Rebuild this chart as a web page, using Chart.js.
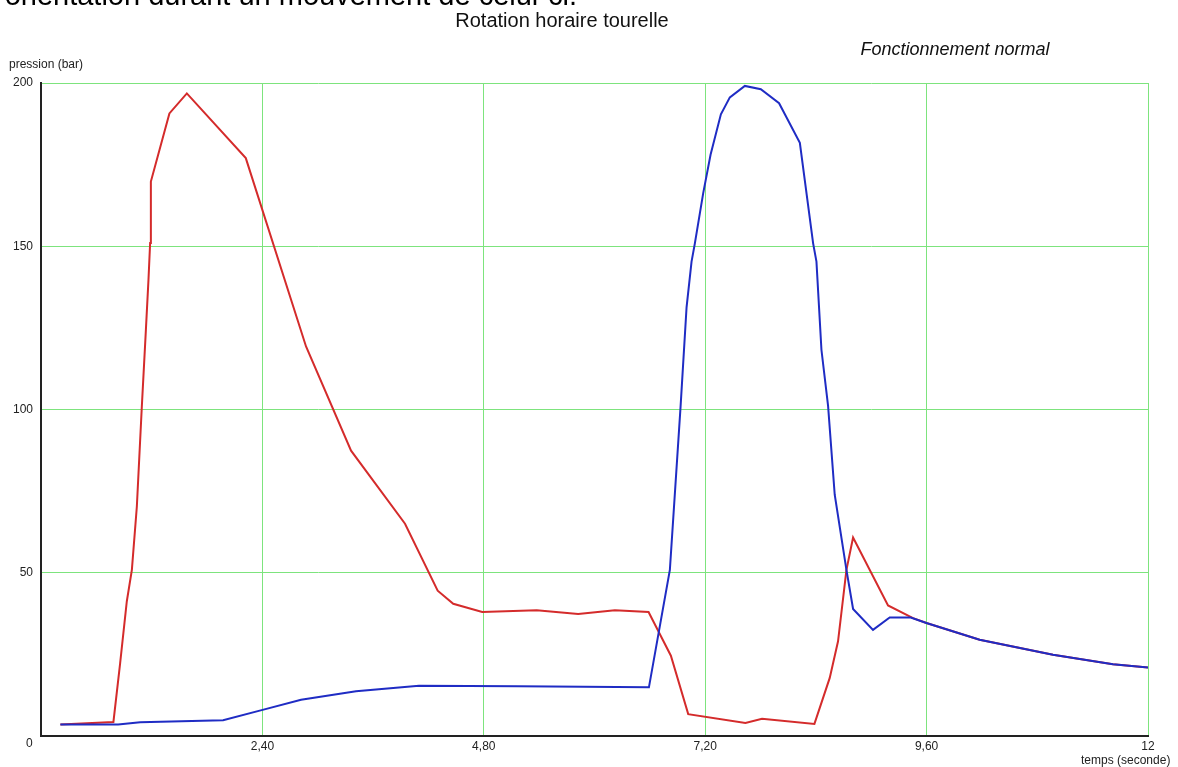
<!DOCTYPE html>
<html>
<head>
<meta charset="utf-8">
<script src="https://cdn.jsdelivr.net/npm/chart.js@4"></script>
<style>
  body { margin: 0; background: #fff; }
  canvas { display: block; }
</style>
</head>
<body>
<canvas id="chartCanvas" width="1178" height="767"></canvas>
<script>
// red curve (seconds, bar)
const redTime = [0.21, 0.785, 0.858, 0.93, 0.985, 1.039, 1.093, 1.137, 1.165, 1.183, 1.191, 1.392, 1.581, 2.22, 2.873, 3.361, 3.946, 4.3, 4.469, 4.783, 5.373, 5.823, 6.221, 6.586, 6.828, 7.016, 7.636, 7.816, 8.384, 8.55, 8.64, 8.731, 8.803, 9.182, 9.453, 9.598, 10.175, 10.97, 11.62, 12];
const redPressure = [3.5, 4.3, 22.3, 41.2, 50.9, 70.3, 100.9, 124.4, 139.7, 151, 169.8, 190.7, 196.8, 177, 119.3, 87.4, 65, 44.5, 40.5, 38, 38.5, 37.4, 38.5, 38, 24.6, 6.7, 4.0, 5.3, 3.7, 17.8, 29, 50.9, 60.8, 40, 36.1, 34.6, 29.5, 24.9, 22, 21];

// blue curve
const blueTime = [0.21, 0.836, 1.075, 1.974, 2.402, 2.819, 3.415, 4.097, 5.17, 6.59, 6.817, 6.933, 6.998, 7.052, 7.088, 7.178, 7.258, 7.37, 7.467, 7.63, 7.803, 8.001, 8.226, 8.37, 8.406, 8.46, 8.532, 8.604, 8.731, 8.803, 9.019, 9.2, 9.428, 9.598, 10.175, 10.97, 11.62, 12];
const bluePressure = [3.5, 3.5, 4.2, 4.8, 8.0, 11.1, 13.7, 15.4, 15.2, 14.9, 50.9, 100.9, 131.3, 145.3, 150.9, 166.2, 178, 190.4, 195.6, 199.1, 198.1, 193.8, 181.7, 150.9, 145.3, 118.3, 101.1, 73.9, 50.9, 38.9, 32.5, 36.3, 36.3, 34.6, 29.5, 24.9, 22, 21];

const xTicks = [0, 2.4, 4.8, 7.2, 9.6, 12];
const xTickLabels = ['', '2,40', '4,80', '7,20', '9,60', '12'];

function toPoints(xs, ys) {
    return xs.map((x, i) => ({ x: x, y: ys[i] }));
}

const textPlugin = {
    id: 'texts',
    afterDraw(chart) {
        const ctx = chart.ctx;
        ctx.save();
        ctx.fillStyle = '#000';
        ctx.textBaseline = 'alphabetic';
        ctx.textAlign = 'left';
        ctx.font = '29px "Liberation Sans", Arial, sans-serif';
        ctx.fillText("d'orientation durant un mouvement de celui-ci.", -17, 5);

        ctx.fillStyle = '#111';
        ctx.textBaseline = 'middle';
        ctx.textAlign = 'center';
        ctx.font = '20px "Liberation Sans", Arial, sans-serif';
        ctx.fillText('Rotation horaire tourelle', 562, 21);

        ctx.font = 'italic 18px "Liberation Sans", Arial, sans-serif';
        ctx.fillText('Fonctionnement normal', 955, 50);

        ctx.fillStyle = '#222';
        ctx.textAlign = 'left';
        ctx.font = '12px "Liberation Sans", Arial, sans-serif';
        ctx.fillText('pression (bar)', 9, 65);
        ctx.fillText('temps (seconde)', 1081, 761);
        ctx.fillText('0', 26, 744);
        ctx.restore();
    }
};

const ctx = document.getElementById('chartCanvas').getContext('2d');
const myChart = new Chart(ctx, {
    type: 'line',
    data: {
        datasets: [{
            label: 'bleu',
            data: toPoints(blueTime, bluePressure),
            borderColor: '#1f2cc4',
            borderWidth: 2,
            pointRadius: 0,
            tension: 0,
            fill: false
        }, {
            label: 'rouge',
            data: toPoints(redTime, redPressure),
            borderColor: '#d42b2b',
            borderWidth: 2,
            pointRadius: 0,
            tension: 0,
            fill: false
        }]
    },
    options: {
        responsive: false,
        animation: false,
        layout: { padding: { left: 0, right: 30, top: 83, bottom: 0 } },
        plugins: {
            legend: { display: false },
            tooltip: { enabled: false }
        },
        scales: {
            x: {
                type: 'linear',
                min: 0,
                max: 12,
                afterBuildTicks: axis => {
                    axis.ticks = xTicks.map(v => ({ value: v }));
                },
                afterFit: axis => { axis.height = 31; },
                grid: { color: 'rgb(125,228,125)', lineWidth: 1, drawTicks: false },
                border: { display: true, color: '#222', width: 2 },
                ticks: {
                    autoSkip: false,
                    maxRotation: 0,
                    padding: 3,
                    color: '#222',
                    font: { family: '"Liberation Sans", Arial, sans-serif', size: 12 },
                    callback: (value, index) => xTickLabels[index]
                }
            },
            y: {
                min: 0,
                max: 200,
                afterFit: axis => { axis.width = 41; },
                grid: { color: 'rgb(125,228,125)', lineWidth: 1, drawTicks: false },
                border: { display: true, color: '#222', width: 2 },
                ticks: {
                    stepSize: 50,
                    padding: 8,
                    color: '#222',
                    font: { family: '"Liberation Sans", Arial, sans-serif', size: 12 },
                    callback: value => value === 0 ? '' : String(value)
                }
            }
        }
    },
    plugins: [textPlugin]
});
</script>
</body>
</html>
